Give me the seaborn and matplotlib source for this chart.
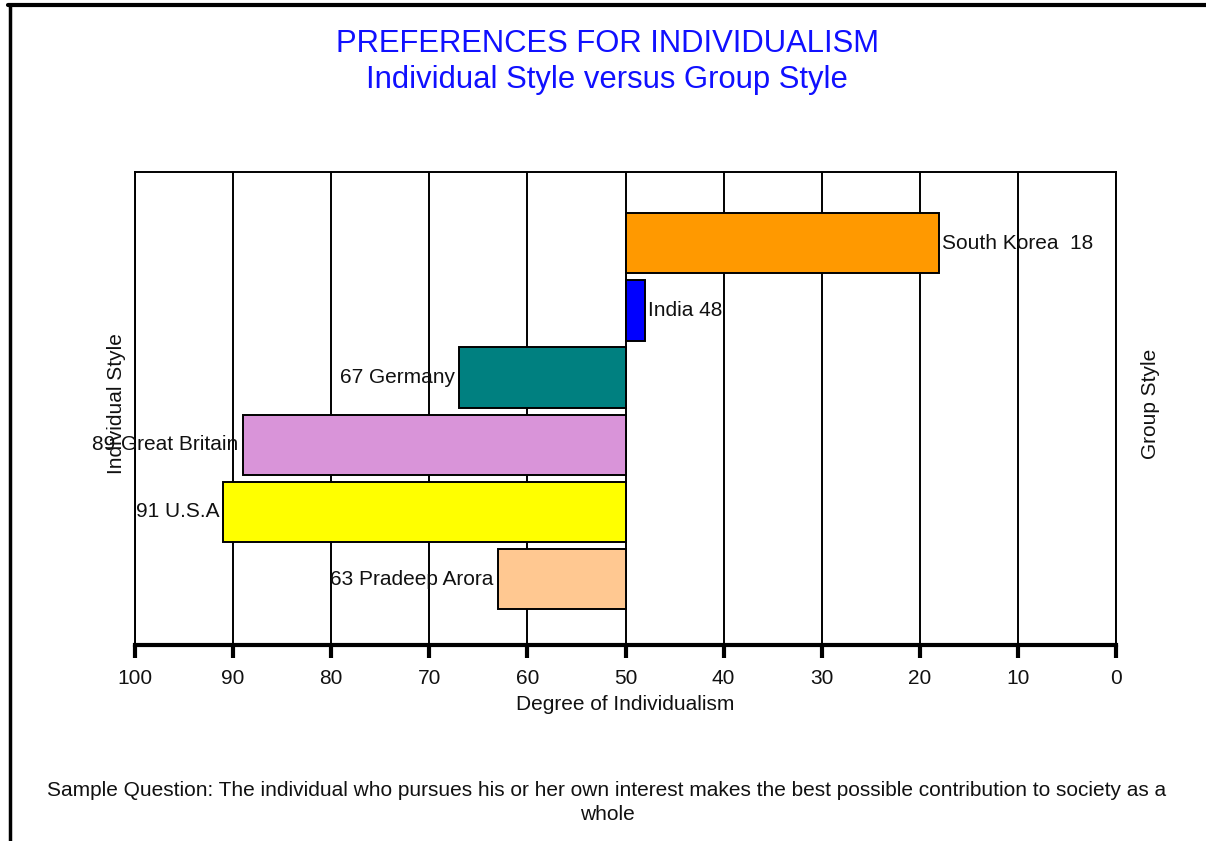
import matplotlib
matplotlib.use("Agg")
import matplotlib.pyplot as plt
from matplotlib.lines import Line2D
from matplotlib.ticker import FixedLocator, FuncFormatter
import pandas as pd
import seaborn as sns

# Scores on the individualism scale (0 = group style, 100 = individual style)
countries = ["South Korea", "India", "Germany", "Great Britain", "U.S.A", "Pradeep Arora"]
scores = [18, 48, 67, 89, 91, 63]
bar_colors = ["#FF9900", "#0000FF", "#008080", "#D994D9", "#FFFF00", "#FFC891"]
bar_labels = ["South Korea  18", "India 48", "67 Germany", "89 Great Britain",
              "91 U.S.A", "63 Pradeep Arora"]
tick_values = [100, 90, 80, 70, 60, 50, 40, 30, 20, 10, 0]
midpoint = 50

sns.set_theme(style="white")
plt.rcParams["font.family"] = ["Liberation Sans", "DejaVu Sans"]

TXT = "#111111"
FS = 15

df = pd.DataFrame({"country": countries, "score": scores})
# bars grow out of the midpoint of the scale
df["offset"] = df["score"] - midpoint

W, H = 1206, 841
fig = plt.figure(figsize=(W / 100, H / 100), dpi=100)
fig.patch.set_facecolor("white")
ax = fig.add_axes([135 / W, 1 - 645 / H, (1116 - 135) / W, (645 - 172) / H])

sns.barplot(data=df, x="offset", y="country", hue="country",
            palette=dict(zip(countries, bar_colors)), orient="h",
            width=0.9, dodge=False, legend=False, edgecolor="black",
            linewidth=1.4, saturation=1, ax=ax, zorder=3)

ax.set_xlim(midpoint, -midpoint)
ax.set_ylim(len(countries) - 0.02, -1.06)
ax.xaxis.set_major_locator(FixedLocator([v - midpoint for v in tick_values]))
ax.xaxis.set_major_formatter(FuncFormatter(lambda v, _: f"{v + midpoint:.0f}"))

ax.set_axisbelow(True)
ax.xaxis.grid(True, color="black", linewidth=1.4)
ax.yaxis.grid(False)
ax.set_yticks([])
ax.set_ylabel("")
ax.set_xlabel("Degree of Individualism", fontsize=FS, color=TXT, labelpad=5)
ax.tick_params(axis="x", bottom=True, length=9, width=3, color="black",
               labelsize=FS, labelcolor=TXT, pad=8)
for side, spine in ax.spines.items():
    spine.set_visible(True)
    spine.set_color("black")
    spine.set_linewidth(1.4)
ax.spines["bottom"].set_linewidth(3)

# value labels at the end of each bar
for i, (lab, off) in enumerate(zip(bar_labels, df["offset"])):
    if off < 0:
        ax.annotate(lab, xy=(off, i), xytext=(2, 0), textcoords="offset points",
                    ha="left", va="center", fontsize=FS, color=TXT, zorder=5)
    else:
        ax.annotate(lab, xy=(off, i), xytext=(-3, 0), textcoords="offset points",
                    ha="right", va="center", fontsize=FS, color=TXT, zorder=5)

fig.text(116 / W, 1 - 404 / H, "Individual Style", rotation=90, ha="center", va="center",
         fontsize=FS, color=TXT)
fig.text(1150 / W, 1 - 404 / H, "Group Style", rotation=90, ha="center", va="center",
         fontsize=FS, color=TXT)

fig.text(607 / W, 1 - 52 / H, "PREFERENCES FOR INDIVIDUALISM", ha="center",
         va="baseline", fontsize=22.3, color="#1010FF")
fig.text(607 / W, 1 - 88 / H, "Individual Style versus Group Style", ha="center",
         va="baseline", fontsize=22.3, color="#1010FF")

fig.text(607 / W, 1 - 790 / H,
         "Sample Question: The individual who pursues his or her own interest makes the best "
         "possible contribution to society as a", ha="center", va="center",
         fontsize=FS, color=TXT)
fig.text(607 / W, 1 - 815 / H, "whole", ha="center", va="center", fontsize=FS,
         color=TXT)

# page frame along the top and left edges
fig.add_artist(Line2D([8 / W, 1], [1 - 5 / H, 1 - 5 / H], color="black", linewidth=3,
                      transform=fig.transFigure))
fig.add_artist(Line2D([10 / W, 10 / W], [0, 1 - 5 / H], color="black", linewidth=2.5,
                      transform=fig.transFigure))

fig.savefig("out.png", dpi=100, facecolor="white")
